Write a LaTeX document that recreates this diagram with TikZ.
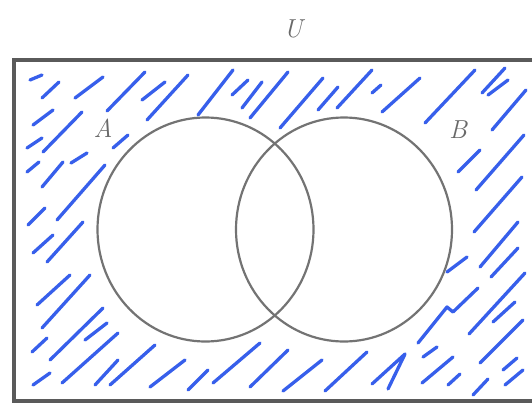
\documentclass[tikz,border=0pt]{standalone}
\usetikzlibrary{shapes.geometric}
\definecolor{hatchblue}{RGB}{55,95,235}
\definecolor{framegray}{RGB}{90,90,90}
\definecolor{circgray}{RGB}{115,115,115}
\definecolor{labgray}{RGB}{105,105,105}
\begin{document}
\begin{tikzpicture}[x=1pt,y=-1pt,
  hatch/.style={draw=hatchblue,line width=3.3pt,line cap=round,line join=round},
  setcircle/.style={draw=circgray,line width=2.2pt,ellipse,minimum width=216pt,minimum height=224pt,inner sep=0pt},
  lab/.style={text=labgray,font=\fontsize{26}{30}\selectfont\itshape,inner sep=0pt}]
\useasboundingbox (0,0) rectangle (532,407);
\clip (0,0) rectangle (532,407);
% universe rectangle
\node[draw=framegray,line width=4pt,minimum width=530pt,minimum height=341pt,inner sep=0pt,anchor=north west] (U) at (12,58) {};
% hand-drawn hatching outside the sets
\foreach \a/\b/\c/\d in {
  30/80/42/75, 42/98/59/82, 33/125/53/110, 75/98/103/77, 107/111/145/72,
  142/100/165/82, 147/120/188/75, 27/148/42/138, 43/152/82/112, 113/148/128/135,
  27/172/39/162, 42/187/63/162, 71/163/87/153, 57/220/105/165, 28/225/45/208,
  33/253/53/235, 47/262/83/222, 37/305/70/275, 42/328/90/275, 32/352/47/338,
  50/360/103/308, 85/340/107/323, 62/383/118/333, 33/385/50/373, 95/385/118/360,
  110/385/155/345, 150/387/185/360, 188/390/208/370, 213/383/260/343,
  250/387/288/350, 283/391/322/360, 325/391/367/352,
  198/115/233/70, 232/95/248/80, 242/108/262/82, 250/118/288/72, 280/128/323/78,
  318/110/338/87, 337/108/372/70, 372/93/381/85, 382/112/420/78, 425/123/475/70,
  482/93/505/68, 488/95/508/80, 492/130/526/90,
  458/172/480/150, 476/190/524/135, 474/232/522/177, 480/267/518/222,
  447/272/467/257, 491/277/518/248, 469/334/525/273, 493/322/515/302,
  480/363/523/320, 423/357/437/347, 422/383/453/357, 448/385/460/374,
  473/395/488/379, 503/370/517/358, 505/385/523/370}
  \draw[hatch] (\a,\b) -- (\c,\d);
\draw[hatch] (418,343) -- (447,307) -- (453,312) -- (478,288);
\draw[hatch] (372,384) -- (405,354) -- (388,389);
% sets
\node[setcircle] (A) at (205.5,229.5) {};
\node[setcircle] (B) at (344,229.5) {};
% labels
\node[lab] (labU) at (293,29) {U};
\node[lab] (labA) at (103,128) {A};
\node[lab] (labB) at (458,130) {B};
\end{tikzpicture}
\end{document}
